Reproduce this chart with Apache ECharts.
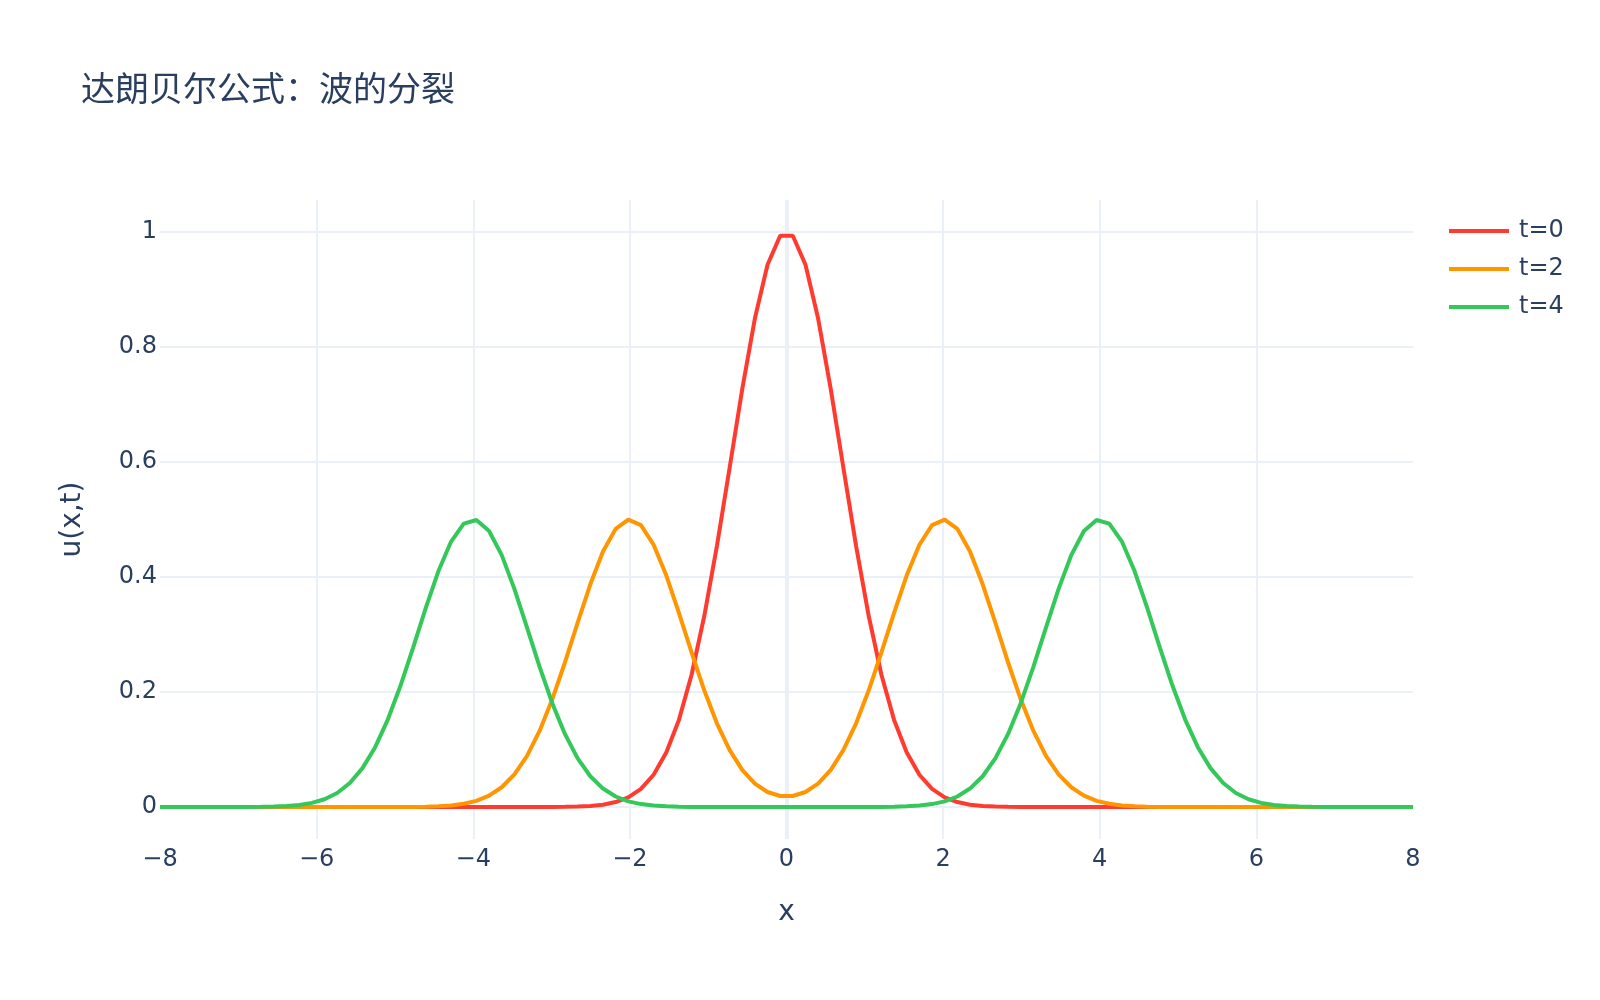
<!DOCTYPE html>
<html>
<head>
<meta charset="utf-8">
<script src="https://cdn.jsdelivr.net/npm/echarts@6/dist/echarts.min.js"></script>
<style>
  html, body { margin: 0; padding: 0; background: #ffffff; }
  #chart { width: 1600px; height: 1000px; }
</style>
</head>
<body>
<div id="chart"></div>
<script>
// x sample positions (100 samples from -8 to 8)
const xValues = [
  -8, -7.8384, -7.6768, -7.5152, -7.3535, -7.1919, -7.0303, -6.8687, -6.7071, -6.5455,
  -6.3838, -6.2222, -6.0606, -5.899, -5.7374, -5.5758, -5.4141, -5.2525, -5.0909, -4.9293,
  -4.7677, -4.6061, -4.4444, -4.2828, -4.1212, -3.9596, -3.798, -3.6364, -3.4747, -3.3131,
  -3.1515, -2.9899, -2.8283, -2.6667, -2.5051, -2.3434, -2.1818, -2.0202, -1.8586, -1.697,
  -1.5354, -1.3737, -1.2121, -1.0505, -0.8889, -0.7273, -0.5657, -0.404, -0.2424, -0.0808,
  0.0808, 0.2424, 0.404, 0.5657, 0.7273, 0.8889, 1.0505, 1.2121, 1.3737, 1.5354,
  1.697, 1.8586, 2.0202, 2.1818, 2.3434, 2.5051, 2.6667, 2.8283, 2.9899, 3.1515,
  3.3131, 3.4747, 3.6364, 3.798, 3.9596, 4.1212, 4.2828, 4.4444, 4.6061, 4.7677,
  4.9293, 5.0909, 5.2525, 5.4141, 5.5758, 5.7374, 5.899, 6.0606, 6.2222, 6.3838,
  6.5455, 6.7071, 6.8687, 7.0303, 7.1919, 7.3535, 7.5152, 7.6768, 7.8384, 8
];

// u(x, t=0)
const uT0 = [
  0, 0, 0, 0, 0, 0, 0, 0, 0, 0,
  0, 0, 0, 0, 0, 0, 0, 0, 0, 0,
  0, 0, 0, 0, 0, 0, 0, 0, 0, 0,
  0, 0.0001, 0.0003, 0.0008, 0.0019, 0.0041, 0.0086, 0.0169, 0.0316, 0.0562,
  0.0947, 0.1515, 0.2301, 0.3317, 0.4538, 0.5892, 0.7262, 0.8494, 0.9429, 0.9935,
  0.9935, 0.9429, 0.8494, 0.7262, 0.5892, 0.4538, 0.3317, 0.2301, 0.1515, 0.0947,
  0.0562, 0.0316, 0.0169, 0.0086, 0.0041, 0.0019, 0.0008, 0.0003, 0.0001, 0,
  0, 0, 0, 0, 0, 0, 0, 0, 0, 0,
  0, 0, 0, 0, 0, 0, 0, 0, 0, 0,
  0, 0, 0, 0, 0, 0, 0, 0, 0, 0
];

// u(x, t=2)
const uT2 = [
  0, 0, 0, 0, 0, 0, 0, 0, 0, 0,
  0, 0, 0, 0, 0, 0, 0, 0, 0, 0.0001,
  0.0002, 0.0006, 0.0013, 0.0027, 0.0056, 0.0107, 0.0197, 0.0344, 0.0568, 0.0891,
  0.1328, 0.1877, 0.2518, 0.3206, 0.3874, 0.4444, 0.4837, 0.4998, 0.4901, 0.4561,
  0.4029, 0.3378, 0.2688, 0.203, 0.1456, 0.0993, 0.0646, 0.0407, 0.0261, 0.0192,
  0.0192, 0.0261, 0.0407, 0.0646, 0.0993, 0.1456, 0.203, 0.2688, 0.3378, 0.4029,
  0.4561, 0.4901, 0.4998, 0.4837, 0.4444, 0.3874, 0.3206, 0.2518, 0.1877, 0.1328,
  0.0891, 0.0568, 0.0344, 0.0197, 0.0107, 0.0056, 0.0027, 0.0013, 0.0006, 0.0002,
  0.0001, 0, 0, 0, 0, 0, 0, 0, 0, 0,
  0, 0, 0, 0, 0, 0, 0, 0, 0, 0
];

// u(x, t=4)
const uT4 = [
  0, 0, 0, 0, 0, 0, 0.0001, 0.0001, 0.0003, 0.0008,
  0.0017, 0.0036, 0.0072, 0.0136, 0.0244, 0.0417, 0.0677, 0.1041, 0.1521, 0.2108,
  0.2773, 0.3463, 0.4104, 0.4616, 0.4927, 0.4992, 0.48, 0.4381, 0.3794, 0.3119,
  0.2434, 0.1802, 0.1267, 0.0845, 0.0535, 0.0321, 0.0183, 0.0099, 0.0051, 0.0025,
  0.0012, 0.0005, 0.0002, 0.0001, 0, 0, 0, 0, 0, 0,
  0, 0, 0, 0, 0, 0, 0.0001, 0.0002, 0.0005, 0.0012,
  0.0025, 0.0051, 0.0099, 0.0183, 0.0321, 0.0535, 0.0845, 0.1267, 0.1802, 0.2434,
  0.3119, 0.3794, 0.4381, 0.48, 0.4992, 0.4927, 0.4616, 0.4104, 0.3463, 0.2773,
  0.2108, 0.1521, 0.1041, 0.0677, 0.0417, 0.0244, 0.0136, 0.0072, 0.0036, 0.0017,
  0.0008, 0.0003, 0.0001, 0.0001, 0, 0, 0, 0, 0, 0
];

const seriesNames = ['t=0', 't=2', 't=4'];
const seriesColors = ['#ff3b30', '#ff9500', '#34c759'];
const xTicks = [-8, -6, -4, -2, 0, 2, 4, 6, 8];
const yTicks = [0, 0.2, 0.4, 0.6, 0.8, 1];

const titleText = '达朗贝尔公式：波的分裂';
const xTitle = 'x';
const yTitle = 'u(x,t)';

const textColor = '#2a3f5f';
const gridColor = '#ebf0f8';
const fontFamily = '"DejaVu Sans", "Noto Sans CJK SC", sans-serif';

const seriesValues = [uT0, uT2, uT4];

const chart = echarts.init(document.getElementById('chart'), null, { renderer: 'canvas' });

const lineSeries = seriesValues.map((vals, k) => ({
  name: seriesNames[k],
  type: 'line',
  xAxisIndex: 0,
  yAxisIndex: 0,
  data: xValues.map((x, i) => [x, vals[i]]),
  showSymbol: false,
  symbol: 'none',
  smooth: false,
  z: 3,
  lineStyle: { color: seriesColors[k], width: 4 },
  itemStyle: { color: seriesColors[k] }
}));

const option = {
  animation: false,
  backgroundColor: '#ffffff',
  textStyle: { fontFamily: fontFamily, color: textColor },
  title: {
    text: titleText,
    left: 76,
    top: 70,
    textStyle: { fontFamily: fontFamily, fontSize: 34, fontWeight: 'normal', color: textColor }
  },
  legend: {
    data: seriesNames,
    orient: 'vertical',
    left: 1444,
    top: 213,
    icon: 'rect',
    itemWidth: 60,
    itemHeight: 4,
    itemGap: 12,
    textStyle: { fontFamily: fontFamily, fontSize: 24, color: textColor, lineHeight: 26, padding: [0, 0, 0, 5] }
  },
  grid: [
    { left: 160, width: 1253, top: 200, height: 639 },
    { left: 160, width: 1253, top: 232, height: 575 }
  ],
  xAxis: [
    {
      gridIndex: 0,
      type: 'value',
      min: xTicks[0],
      max: xTicks[xTicks.length - 1],
      interval: xTicks[1] - xTicks[0],
      axisLine: { show: false },
      axisTick: { show: false },
      splitLine: { show: true, showMinLine: false, showMaxLine: false, lineStyle: { color: gridColor, width: 2 } },
      axisLabel: {
        fontSize: 24,
        color: textColor,
        fontFamily: fontFamily,
        margin: 9,
        formatter: v => (v < 0 ? '\u2212' + Math.abs(v) : String(v))
      },
      name: xTitle,
      nameLocation: 'middle',
      nameGap: 60,
      nameTextStyle: { fontSize: 28, color: textColor, fontFamily: fontFamily }
    },
    {
      gridIndex: 1,
      type: 'value',
      min: xTicks[0],
      max: xTicks[xTicks.length - 1],
      show: false
    },
    {
      // zero line at x = 0
      gridIndex: 0,
      type: 'value',
      min: xTicks[0],
      max: xTicks[xTicks.length - 1],
      interval: xTicks[xTicks.length - 1],
      axisLine: { show: false },
      axisTick: { show: false },
      axisLabel: { show: false },
      splitLine: { show: true, showMinLine: false, showMaxLine: false, lineStyle: { color: gridColor, width: 4 } }
    }
  ],
  yAxis: [
    {
      gridIndex: 0,
      type: 'value',
      min: -0.0556,
      max: 1.0556,
      show: false,
      splitLine: { show: false }
    },
    {
      gridIndex: 1,
      type: 'value',
      min: yTicks[0],
      max: yTicks[yTicks.length - 1],
      interval: yTicks[1] - yTicks[0],
      axisLine: { show: false },
      axisTick: { show: false },
      splitLine: { show: true, lineStyle: { color: gridColor, width: 2 } },
      axisLabel: { fontSize: 24, color: textColor, fontFamily: fontFamily, margin: 3 },
      name: yTitle,
      nameLocation: 'middle',
      nameGap: 73,
      nameRotate: 90,
      nameTextStyle: { fontSize: 28, color: textColor, fontFamily: fontFamily }
    }
  ],
  series: lineSeries
};

chart.setOption(option);
</script>
</body>
</html>
